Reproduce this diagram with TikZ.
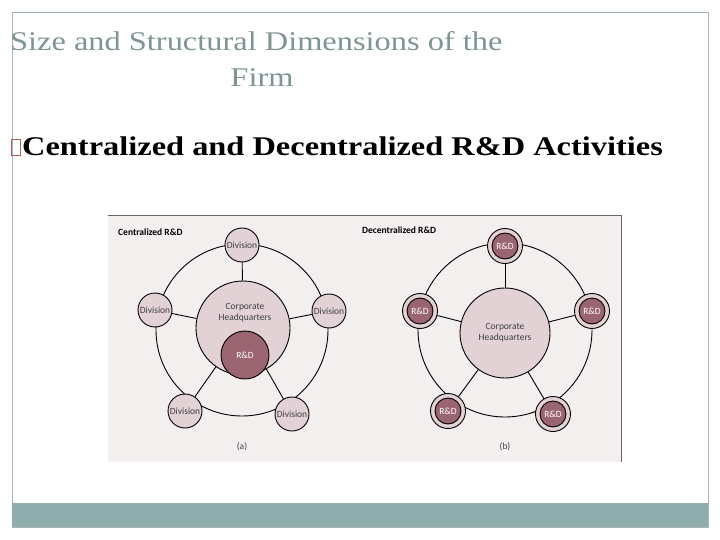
\documentclass[tikz,border=0pt]{standalone}
\usepackage{fontspec}
\setmainfont{Liberation Serif}
\newfontfamily\dgfont{Carlito}
\definecolor{titlegray}{HTML}{7F9494}
\definecolor{barcol}{HTML}{8FADAD}
\definecolor{panel}{HTML}{F4EFEF}
\definecolor{lightc}{HTML}{E2D2D5}
\definecolor{darkc}{HTML}{9A6470}
\begin{document}
\begin{tikzpicture}[x=1pt,y=-1pt,
  dtext/.style={font=\dgfont\fontsize{9.5}{11}\selectfont,text=black!75},
  light/.style={circle,draw=black,line width=0.9pt,fill=lightc,inner sep=0pt,dtext},
  node/.style={light,minimum size=34pt},
  rd/.style={circle,draw=black,line width=0.9pt,fill=darkc,inner sep=0pt,font=\dgfont\fontsize{9.5}{11}\selectfont,text=white,minimum size=26pt},
  rdouter/.style={circle,draw=black,line width=0.9pt,fill=lightc,minimum size=35pt,inner sep=0pt},
  link/.style={line width=0.9pt}]
\useasboundingbox (0,0) rectangle (720,540);
\fill[white] (0,0) rectangle (720,540);
\draw[titlegray!70,line width=0.8pt] (12,12) rectangle (708,527);
\fill[barcol] (12,503) rectangle (708,527);
\node[anchor=base west,text=titlegray,font=\fontsize{27}{30}\selectfont,inner sep=0pt] (t1) at (10,51) {\scalebox{1.2}[1]{Size and Structural Dimensions of the}};
\node[anchor=base,text=titlegray,font=\fontsize{27}{30}\selectfont,inner sep=0pt] (t2) at (262,87) {\scalebox{1.2}[1]{Firm}};
\node[draw={rgb,255:red,170;green,100;blue,90},line width=0.8pt,minimum width=9pt,minimum height=16pt,inner sep=0pt] (bx) at (15.5,147) {};
\node[anchor=base west,font=\bfseries\fontsize{27}{30}\selectfont,inner sep=0pt] (t3) at (22,156) {\scalebox{1.2}[1]{Centralized and Decentralized R\&D Activities}};
% panel
\fill[panel] (108,215) rectangle (621,462);
\draw[black!60,line width=0.5pt] (108,215) -- (621,215) -- (621,462);
\node[anchor=west,font=\dgfont\bfseries\fontsize{9.5}{11}\selectfont,inner sep=0pt] (la) at (118,232) {Centralized R\&D};
\node[anchor=west,font=\dgfont\bfseries\fontsize{9.5}{11}\selectfont,inner sep=0pt] (lb) at (362,230) {Decentralized R\&D};
\node[dtext] (ca) at (242,447) {(a)};
\node[dtext] (cb) at (505,447) {(b)};
% left
\draw[link] (242,330) circle (86);
\node[light,minimum size=94pt] (hq) at (243,328) {};
\node[dtext,align=center] (hqt) at (245,313) {Corporate\\Headquarters};
\node[rd,minimum size=48pt] (crd) at (245,355) {R\&D};
\node[node] (d1) at (242,245) {Division};
\node[node] (d2) at (155,310) {Division};
\node[node] (d3) at (329,311) {Division};
\node[node] (d4) at (185,411) {Division};
\node[node] (d5) at (292,414) {Division};
\foreach \n in {d1,d2,d3,d4,d5} \draw[link] (hq) -- (\n);
% right
\draw[link] (505,330) circle (87);
\node[light,minimum size=90pt,align=center] (hq2) at (505,333) {Corporate\\Headquarters};
\foreach \n/\p in {r1/{505,246},r2/{420,311},r3/{592,311},r4/{448,411},r5/{553,414}}{
  \node[rdouter] (\n o) at (\p) {};
  \node[rd] (\n) at (\p) {R\&D};
  \draw[link] (hq2) -- (\n o);
}
\end{tikzpicture}
\end{document}
